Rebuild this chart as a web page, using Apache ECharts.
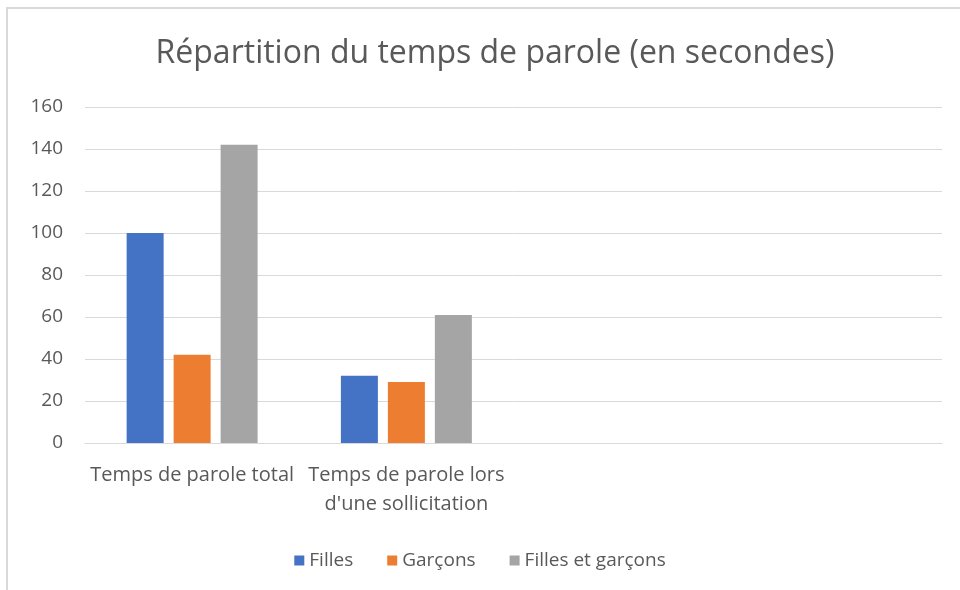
<!DOCTYPE html>
<html>
<head>
<meta charset="utf-8">
<script src="https://cdn.jsdelivr.net/npm/echarts@6/dist/echarts.min.js"></script>
<style>
html,body{margin:0;padding:0;background:#fff;}
#container{width:960px;height:590px;}
</style>
</head>
<body>
<div id="container"></div>
<script>
var categories=['Temps de parole total','Temps de parole lors\nd\'une sollicitation','',''];
var filles=[100,32,null,null];
var garcons=[42,29,null,null];
var fillesEtGarcons=[142,61,null,null];
var yTicks={min:0,max:160,interval:20};

var dom=document.querySelector("#container");
var myChart=echarts.init(dom);

var font='"Open Sans", "Noto Sans", sans-serif';

var option={
    animation:false,
    title:{
        left:490,
        textAlign:'center',
        top:33,
        text:'Répartition du temps de parole (en secondes)',
        textStyle:{color:'#595959',fontSize:32,fontWeight:'normal',fontFamily:font}
    },
    // light chart-area border, top and left only as in the picture
    graphic:[{
        type:'polyline',
        shape:{points:[[7,590],[7,8],[960,8]]},
        style:{stroke:'#d9d9d9',lineWidth:2,fill:null}
    }],
    legend:{
        left:'center',
        top:546,
        itemWidth:10,
        itemHeight:10,
        itemGap:34,
        icon:'rect',
        textStyle:{color:'#595959',fontSize:19,fontFamily:font},
        data:['Filles','Garçons','Filles et garçons']
    },
    grid:{left:85,right:18,top:107,bottom:147},
    xAxis:{
        type:'category',
        data:categories,
        axisLine:{lineStyle:{color:'#d9d9d9'}},
        axisTick:{show:false},
        axisLabel:{color:'#595959',fontSize:20,fontFamily:font,margin:18,lineHeight:29,interval:0}
    },
    yAxis:{
        type:'value',
        min:yTicks.min,
        max:yTicks.max,
        interval:yTicks.interval,
        axisLine:{show:false},
        axisTick:{show:false},
        splitLine:{lineStyle:{color:'#d9d9d9'}},
        axisLabel:{color:'#595959',fontSize:19,fontFamily:font,margin:22}
    },
    series:[
        {name:'Filles',type:'bar',data:filles,barWidth:37,barGap:'27%',itemStyle:{color:'#4472C4'}},
        {name:'Garçons',type:'bar',data:garcons,barWidth:37,barGap:'27%',itemStyle:{color:'#ED7D31'}},
        {name:'Filles et garçons',type:'bar',data:fillesEtGarcons,barWidth:37,barGap:'27%',itemStyle:{color:'#A5A5A5'}}
    ]
};
myChart.setOption(option);
</script>
</body>
</html>
